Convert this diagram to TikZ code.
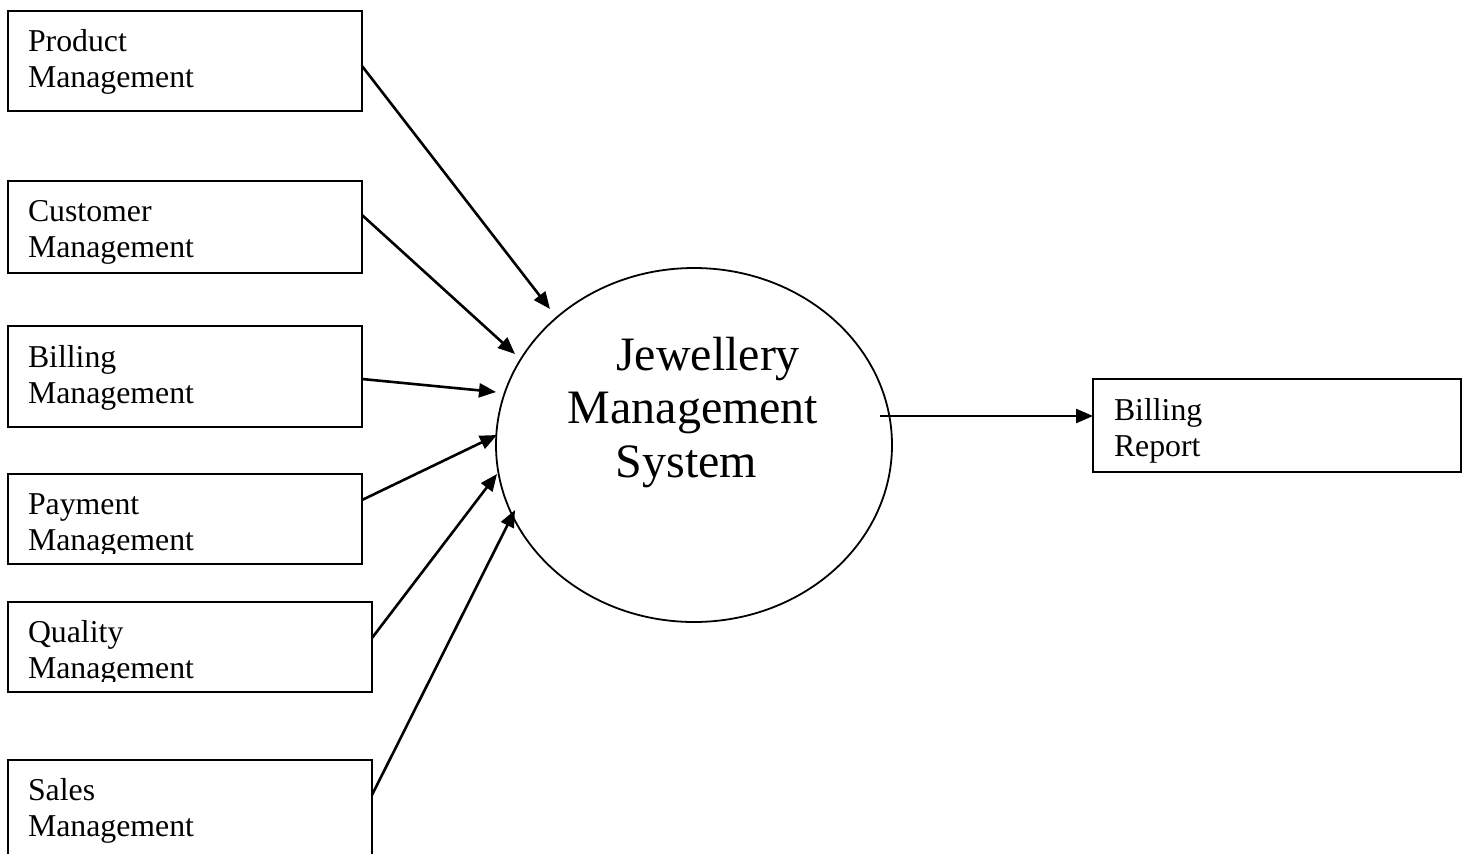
\documentclass[tikz,border=0pt]{standalone}
\usepackage{fontspec}
\setmainfont{Liberation Serif}
\usetikzlibrary{arrows.meta,calc,shapes.geometric}
\newcommand{\boxfont}{\fontsize{31.8}{36}\selectfont}
\newcommand{\sysfont}{\fontsize{48}{53.5}\selectfont}
\begin{document}
\begin{tikzpicture}[x=1pt,y=-1pt,
  box/.style={draw, line width=2pt, rectangle, inner sep=0pt, outer sep=0pt, anchor=north west},
  btext/.style={anchor=base west, inner sep=0pt, outer sep=0pt, font=\boxfont},
  flow/.style={draw, line width=2.6pt, -{Triangle[length=17pt,width=14pt]}}]
\useasboundingbox (0,0) rectangle (1462,854);
\clip (0,0) rectangle (1462,854);
% boxes
\node[box, minimum width=354pt, minimum height=100pt] (b1) at (8,11) {};
\node[box, minimum width=354pt, minimum height=92pt] (b2) at (8,181) {};
\node[box, minimum width=354pt, minimum height=101pt] (b3) at (8,326) {};
\node[box, minimum width=354pt, minimum height=90pt] (b4) at (8,474) {};
\node[box, minimum width=364pt, minimum height=90pt] (b5) at (8,602) {};
\node[box, minimum width=364pt, minimum height=120pt] (b6) at (8,760) {};
\node[box, minimum width=368pt, minimum height=93pt] (br) at (1093,379) {};
% box texts
\begin{scope}
\clip (b1.north west) rectangle ($(b1.south east)+(0,-10)$);
\node[btext] (t1) at ($(b1.north west)+(20,40)$) {\parbox[t]{320pt}{Product\\Management}};
\end{scope}
\begin{scope}
\clip (b2.north west) rectangle ($(b2.south east)+(0,-10)$);
\node[btext] (t2) at ($(b2.north west)+(20,40)$) {\parbox[t]{320pt}{Customer\\Management}};
\end{scope}
\begin{scope}
\clip (b3.north west) rectangle ($(b3.south east)+(0,-10)$);
\node[btext] (t3) at ($(b3.north west)+(20,41)$) {\parbox[t]{320pt}{Billing\\Management}};
\end{scope}
\begin{scope}
\clip (b4.north west) rectangle ($(b4.south east)+(0,-11)$);
\node[btext] (t4) at ($(b4.north west)+(20,40)$) {\parbox[t]{320pt}{Payment\\Management}};
\end{scope}
\begin{scope}
\clip (b5.north west) rectangle ($(b5.south east)+(0,-11)$);
\node[btext] (t5) at ($(b5.north west)+(20,40)$) {\parbox[t]{320pt}{Quality\\Management}};
\end{scope}
\node[btext] (t6) at ($(b6.north west)+(20,40)$) {\parbox[t]{320pt}{Sales\\Management}};
\node[btext] (tr) at ($(br.north west)+(21,41)$) {\parbox[t]{320pt}{Billing\\Report}};
% central process
\node[draw, ellipse, line width=1.8pt, minimum width=396pt, minimum height=354pt, inner sep=0pt, outer sep=0pt] (sys) at (694,445) {};
\node[anchor=base, inner sep=0pt, font=\sysfont] (systxt) at (693,370)
  {\begin{tabular}[t]{@{}c@{}}\rule{30pt}{0pt}Jewellery\\Management\\System\rule{13pt}{0pt}\end{tabular}};
% connectors
\draw[flow] ($(b1.north east)+(0,55)$) -- ($(sys.center)+(-144,-136)$);
\draw[flow] ($(b2.north east)+(0,34)$) -- ($(sys.center)+(-179,-91)$);
\draw[flow] ($(b3.north east)+(0,53)$) -- ($(sys.center)+(-198,-53)$);
\draw[flow] ($(b4.north east)+(0,26)$) -- ($(sys.center)+(-197,-10)$);
\draw[flow] ($(b5.north east)+(0,36)$) -- ($(sys.center)+(-197,29)$);
\draw[flow] ($(b6.north east)+(0,35)$) -- ($(sys.center)+(-179,65)$);
\draw[flow] ($(sys.center)+(186,-29)$) -- ($(br.north west)+(0,37)$);
\end{tikzpicture}
\end{document}
